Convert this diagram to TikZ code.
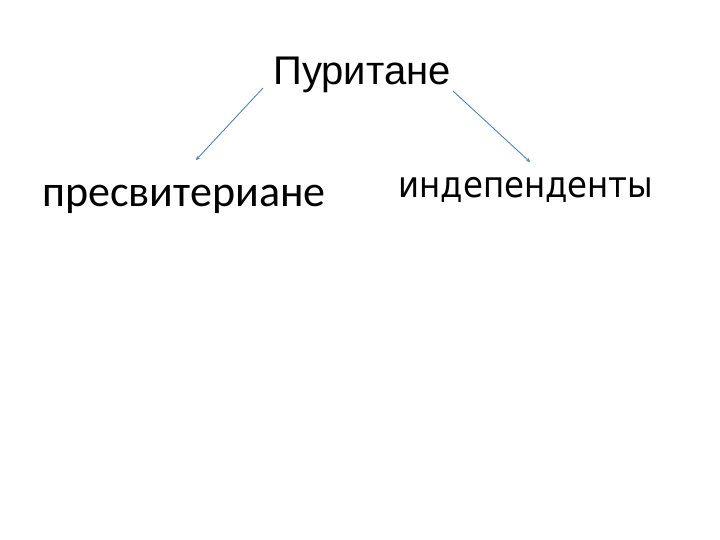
\documentclass[tikz,border=0pt]{standalone}
\usepackage{fontspec}
\setmainfont{Liberation Sans}
\newfontfamily\calib{Carlito}
\newfontfamily\dejav{DejaVu Sans Condensed}
\usetikzlibrary{arrows.meta}
\begin{document}
\begin{tikzpicture}[x=1pt,y=-1pt,
  lbl/.style={font=\fontsize{40}{48}\selectfont, inner sep=0pt, anchor=base},
  arr/.style={draw={rgb,255:red,79;green,129;blue,189}, line width=0.9pt, -{Stealth[length=4pt,width=4pt]}}]
\useasboundingbox (0,0) rectangle (720,540);
\node[lbl] (p) at (362,85) {Пуритане};
\node[lbl, font=\calib\fontsize{44}{50}\selectfont] (l) at (184,207) {пресвитериане};
\node[lbl, font=\dejav\fontsize{36}{42}\selectfont] (r) at (526,197) {индепенденты};
\coordinate (a1) at (263,88);
\coordinate (b1) at (196,160);
\coordinate (a2) at (453,91);
\coordinate (b2) at (530,162);
\draw[arr] (a1) -- (b1);
\draw[arr] (a2) -- (b2);
\end{tikzpicture}
\end{document}
